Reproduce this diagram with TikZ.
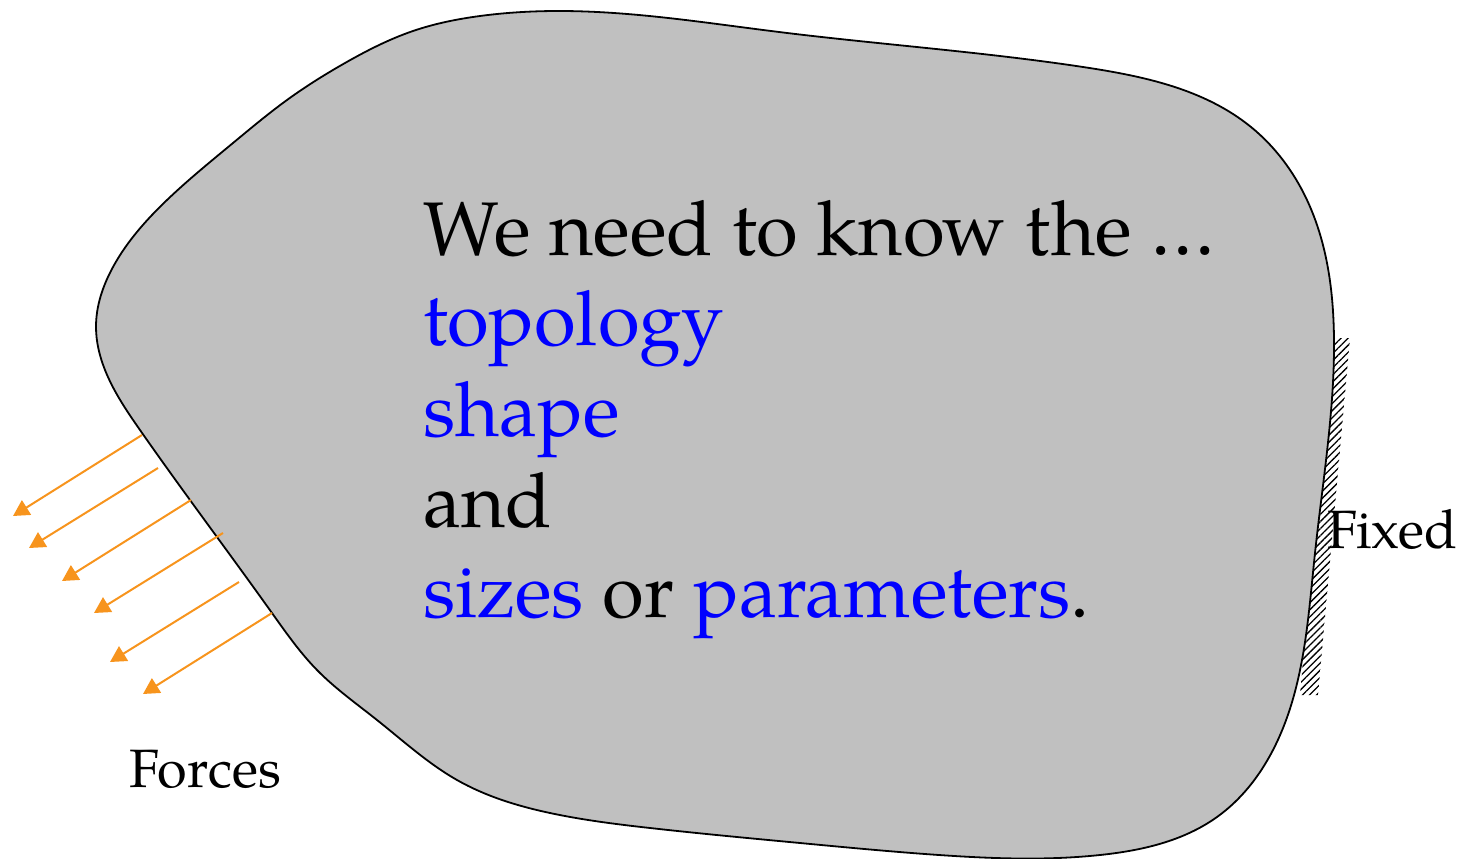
\documentclass[tikz,border=0pt]{standalone}
\usepackage{fontspec}
\setmainfont{texgyrepagella}[Extension=.otf,UprightFont=*-regular,BoldFont=*-bold,ItalicFont=*-italic,BoldItalicFont=*-bolditalic]
\usetikzlibrary{arrows.meta,patterns.meta,hobby}
\definecolor{blobgray}{RGB}{192,192,192}
\definecolor{forceorange}{RGB}{247,148,29}
\definecolor{txtblue}{RGB}{0,0,255}
\tikzset{
  maintext/.style={anchor=base west,inner sep=0pt,font=\fontsize{76}{90}\selectfont},
  labeltext/.style={anchor=base west,inner sep=0pt,font=\fontsize{54}{60}\selectfont},
  force/.style={draw=forceorange,line width=2pt,-{Triangle[length=16pt,width=17pt]}},
  blob/.style={draw=black,line width=1.8pt,fill=blobgray},
  hatch/.style={pattern={Lines[angle=45,distance=5pt,line width=1.3pt]},pattern color=black}
}
\begin{document}
\begin{tikzpicture}[x=1pt,y=-1pt]
\useasboundingbox (0,0) rectangle (1462,859);
% fixed support hatch
\fill[hatch] (1331,338) -- (1350,338) -- (1318,695) -- (1300,695) -- cycle;
% body
\path[blob,use Hobby shortcut,closed=true]
 (96,327) .. (113,267) .. (167,200) .. (233,143) .. (287,100) .. (345,63)
 .. (413,31) .. (480,16) .. (560,11) .. (779,32)
 .. (1083,67) .. (1251,127) .. (1307,200) .. (1334,340) .. (1315,553)
 .. (1302,660) .. (1273,750) .. (1217,817) .. (1100,855) .. (939,855)
 .. (800,843) .. (650,828) .. (550,813) .. (457,780) .. (377,720) .. (317,670)
 .. (272,613) .. (190,500) .. (140,430) .. (105,370);
% text
\node[maintext] (l1) at (423,255) {We need to know the …};
\node[maintext] (l2) at (423,345) {\textcolor{txtblue}{topology}};
\node[maintext] (l3) at (423,436) {\textcolor{txtblue}{shape}};
\node[maintext] (l4) at (423,527) {and};
\node[maintext] (l5) at (423,617) {\textcolor{txtblue}{sizes} or \textcolor{txtblue}{parameters}.};
\node[labeltext] (forces) at (129,787) {Forces};
\node[labeltext] (fixed) at (1327,548) {Fixed};
% forces
\coordinate (f1s) at (142,435); \coordinate (f1e) at (13,516);
\coordinate (f2s) at (158,468); \coordinate (f2e) at (29,548);
\coordinate (f3s) at (191,500); \coordinate (f3e) at (62,581);
\coordinate (f4s) at (223,533); \coordinate (f4e) at (94,613);
\coordinate (f5s) at (239,582); \coordinate (f5e) at (110,662);
\coordinate (f6s) at (272,613); \coordinate (f6e) at (143,694);
\foreach \i in {1,...,6} {\draw[force] (f\i s) -- (f\i e);}
\end{tikzpicture}
\end{document}
